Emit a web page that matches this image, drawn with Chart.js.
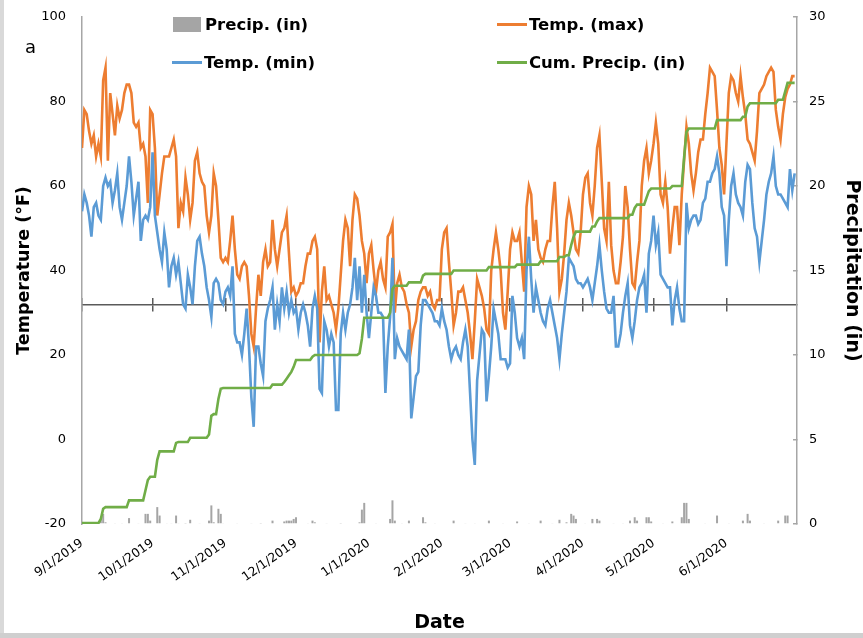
<!DOCTYPE html>
<html>
<head>
<meta charset="utf-8">
<title>Daily temperature and precipitation, Sep 2019 – Jun 2020</title>
<script src="https://cdn.jsdelivr.net/npm/chart.js@4.4.1/dist/chart.umd.min.js"></script>
<style>
  html, body { margin: 0; padding: 0; background: #fff; }
  #frame { position: relative; width: 863px; height: 638px; overflow: hidden; background: #fff; }
  #c { position: absolute; left: 0; top: 0; }
  #panel { position: absolute; left: 25px; top: 36px; font: 18px "DejaVu Sans"; color: #000; line-height: 21px; }
  #legend { position: absolute; left: 172px; top: 12px; display: grid;
            grid-template-columns: 325px 260px; row-gap: 13px; }
  .item { display: flex; align-items: center; height: 25px; white-space: nowrap;
          font: bold 16.5px "DejaVu Sans"; color: #000; }
  .sw-bar { width: 28px; height: 15px; margin: 0 4px 0 1px; }
  .sw-line { width: 30px; height: 3px; margin-right: 2px; }
  #edge-left { position: absolute; left: 0; top: 0; width: 4px; height: 638px; background: #d9d9d9; }
  #edge-bottom { position: absolute; left: 0; top: 633px; width: 863px; height: 5px; background: #cfcfcf; }
</style>
</head>
<body>
<div id="frame">
  <canvas id="c" width="863" height="638"></canvas>
  <div id="panel">a</div>
  <div id="legend"></div>
  <div id="edge-left"></div>
  <div id="edge-bottom"></div>
</div>
<script>
// Day index 0 = 9/1/2019 ... 303 = 6/30/2020
const tickDays   = [0, 30, 61, 91, 122, 153, 182, 213, 243, 274];
const tickLabels = ['9/1/2019', '10/1/2019', '11/1/2019', '12/1/2019', '1/1/2020',
                    '2/1/2020', '3/1/2020', '4/1/2020', '5/1/2020', '6/1/2020'];

// Daily maximum temperature (°F)
const tempMax = [
  69,78,77,73,70,72,67,70,67,85,
  88,66,82,77,72,79,76,78,82,84,
  84,82,75,74,75,69,70,67,56,78,
  77,69,53,58,63,67,67,67,69,71,
  67,50,56,54,62,58,52,56,66,68,
  63,61,60,53,49,53,63,60,52,43,
  42,43,42,47,53,45,39,38,41,42,
  41,34,25,22,31,39,34,42,45,41,
  42,52,45,41,45,49,50,53,44,35,
  36,34,35,37,37,41,44,44,47,48,
  45,23,35,41,33,34,32,30,26,31,
  39,47,52,50,41,52,58,57,53,47,
  44,37,44,46,40,35,40,42,38,36,
  48,49,51,30,37,39,36,35,32,30,
  22,26,28,33,35,36,36,34,35,32,
  31,33,33,45,49,50,42,35,27,30,
  35,35,36,33,30,25,19,28,38,36,
  34,31,26,25,40,45,49,45,40,30,
  26,35,45,49,47,47,49,42,35,55,
  60,58,47,52,45,43,42,45,47,47,
  55,61,50,35,38,44,52,56,53,49,
  45,44,49,58,62,63,56,53,60,69,
  72,61,50,47,61,46,40,37,37,42,
  48,60,55,45,37,36,42,47,60,66,
  69,63,66,70,75,70,58,56,61,55,
  44,50,55,55,46,58,66,74,70,63,
  59,63,68,71,71,77,82,88,87,86,
  78,69,65,58,70,82,86,85,82,80,
  86,81,77,71,70,68,66,73,82,83,
  84,86,87,88,87,78,74,71,77,81,
  83,84,86,86
];

// Daily minimum temperature (°F)
const tempMin = [
  54,58,56,53,48,55,56,53,52,60,
  62,60,61,56,59,63,55,52,56,60,
  67,61,53,57,61,47,52,53,52,55,
  68,53,49,45,42,49,45,36,41,43,
  39,42,37,32,31,39,36,32,41,47,
  48,44,41,36,33,29,37,38,37,33,
  32,35,36,34,41,25,23,23,20,25,
  31,22,10,3,22,22,18,15,28,31,
  33,36,26,32,28,36,31,35,30,33,
  30,31,26,30,32,30,27,22,31,34,
  31,12,11,28,26,22,25,23,7,7,
  25,30,26,30,32,36,43,33,41,30,
  39,30,24,30,36,34,30,30,29,11,
  22,29,43,19,24,22,21,20,19,26,
  5,10,15,16,27,33,33,32,31,30,
  28,28,27,31,28,26,22,19,21,22,
  20,19,23,26,22,11,0,-6,14,20,
  26,25,9,15,22,31,28,25,19,19,
  19,17,18,34,30,24,22,24,19,40,
  48,38,30,36,33,30,28,27,31,33,
  30,27,24,19,25,30,35,43,42,41,
  38,37,37,36,37,38,36,33,37,41,
  46,40,35,31,30,30,34,22,22,25,
  30,34,37,27,24,28,33,36,37,39,
  30,44,47,53,46,49,39,38,37,36,
  36,27,33,36,31,28,28,56,50,52,
  53,53,51,52,56,57,61,61,63,64,
  67,63,55,53,41,52,60,63,58,56,
  55,53,61,65,64,56,50,48,42,47,
  52,58,61,63,67,60,58,58,57,56,
  55,64,59,63
];

// Daily precipitation (in)
const precip = [
  0,0,0,0.05,0,0,0,0,0.25,0.6,
  0.1,0,0,0,0.05,0,0,0.05,0,0,
  0.35,0,0,0,0.05,0,0,0.6,0.6,0.2,
  0,0,1.0,0.5,0,0,0.05,0,0.05,0,
  0.5,0.05,0,0,0.03,0,0.25,0,0,0,
  0.05,0,0,0,0.2,1.1,0.1,0,0.9,0.6,
  0.05,0,0,0,0,0,0.05,0,0,0,
  0,0,0.05,0,0,0,0.03,0,0,0,
  0,0.2,0,0,0,0,0.15,0.2,0.2,0.2,
  0.3,0.4,0,0,0,0,0.05,0,0.2,0.1,
  0,0,0,0,0.05,0,0,0,0,0,
  0.03,0,0,0,0,0,0,0,0.1,0.85,
  1.25,0,0,0,0,0.05,0,0,0,0,
  0,0.3,1.4,0.2,0,0,0.05,0,0,0.2,
  0,0,0,0,0,0.4,0.1,0,0,0,
  0.05,0,0,0,0,0,0,0,0.2,0,
  0,0,0,0.05,0,0,0,0.05,0,0,
  0,0,0,0.2,0,0,0,0,0,0.05,
  0,0,0,0,0,0.15,0,0,0,0,
  0.05,0,0,0,0,0.2,0,0,0,0,
  0.05,0,0,0.25,0,0,0.1,0,0.6,0.5,
  0.3,0,0,0,0.05,0,0,0.3,0,0.3,
  0.2,0,0,0,0,0,0.05,0,0,0,
  0.05,0,0,0.2,0,0.4,0.2,0,0,0,
  0.4,0.4,0.15,0,0,0,0,0.05,0,0,
  0,0.15,0,0,0,0.4,1.25,1.25,0.3,0,
  0,0,0,0,0,0.05,0,0,0,0,
  0.5,0,0,0,0,0.05,0,0,0,0,
  0,0.2,0,0.6,0.2,0,0,0,0,0,
  0.05,0,0,0,0,0,0.2,0,0,0.5,
  0.5,0,0,0
];

// Cumulative precipitation since 9/1/2019 (in)
const cumPrecip = [
  0.05,0.05,0.05,0.05,0.05,0.05,0.05,0.05,0.3,0.9,
  1.0,1.0,1.0,1.0,1.0,1.0,1.0,1.0,1.0,1.0,
  1.4,1.4,1.4,1.4,1.4,1.4,1.4,2.0,2.6,2.8,
  2.8,2.8,3.8,4.3,4.3,4.3,4.3,4.3,4.3,4.3,
  4.8,4.85,4.85,4.85,4.85,4.85,5.1,5.1,5.1,5.1,
  5.1,5.1,5.1,5.1,5.3,6.4,6.5,6.5,7.4,8.0,
  8.05,8.05,8.05,8.05,8.05,8.05,8.05,8.05,8.05,8.05,
  8.05,8.05,8.05,8.05,8.05,8.05,8.05,8.05,8.05,8.05,
  8.05,8.25,8.25,8.25,8.25,8.25,8.4,8.6,8.8,9.0,
  9.3,9.7,9.7,9.7,9.7,9.7,9.7,9.7,9.9,10.0,
  10.0,10.0,10.0,10.0,10.0,10.0,10.0,10.0,10.0,10.0,
  10.0,10.0,10.0,10.0,10.0,10.0,10.0,10.0,10.1,10.95,
  12.2,12.2,12.2,12.2,12.2,12.2,12.2,12.2,12.2,12.2,
  12.2,12.5,13.9,14.1,14.1,14.1,14.1,14.1,14.1,14.3,
  14.3,14.3,14.3,14.3,14.3,14.7,14.8,14.8,14.8,14.8,
  14.8,14.8,14.8,14.8,14.8,14.8,14.8,14.8,15.0,15.0,
  15.0,15.0,15.0,15.0,15.0,15.0,15.0,15.0,15.0,15.0,
  15.0,15.0,15.0,15.2,15.2,15.2,15.2,15.2,15.2,15.2,
  15.2,15.2,15.2,15.2,15.2,15.35,15.35,15.35,15.35,15.35,
  15.35,15.35,15.35,15.35,15.35,15.55,15.55,15.55,15.55,15.55,
  15.55,15.55,15.55,15.8,15.8,15.8,15.9,15.9,16.5,17.0,
  17.3,17.3,17.3,17.3,17.3,17.3,17.3,17.6,17.6,17.9,
  18.1,18.1,18.1,18.1,18.1,18.1,18.1,18.1,18.1,18.1,
  18.1,18.1,18.1,18.3,18.3,18.7,18.9,18.9,18.9,18.9,
  19.3,19.7,19.85,19.85,19.85,19.85,19.85,19.85,19.85,19.85,
  19.85,20.0,20.0,20.0,20.0,20.0,21.7,23.2,23.4,23.4,
  23.4,23.4,23.4,23.4,23.4,23.4,23.4,23.4,23.4,23.4,
  23.9,23.9,23.9,23.9,23.9,23.9,23.9,23.9,23.9,23.9,
  23.9,24.1,24.1,24.7,24.9,24.9,24.9,24.9,24.9,24.9,
  24.9,24.9,24.9,24.9,24.9,24.9,25.1,25.1,25.1,25.6,
  26.1,26.1,26.1,26.1
];

const FONT = 'DejaVu Sans';
Chart.defaults.font.family = FONT;
Chart.defaults.color = '#000';

const toXY = arr => arr.map((v, i) => ({ x: i, y: v }));
const setMonthTicks = scale => { scale.ticks = tickDays.map(v => ({ value: v })); };

// Secondary x axes sitting on the 32 °F line: one draws the line and the lower
// half of each cross tick, the other (slightly higher) draws the upper half.
const freezeAxis = (yValue, showLine) => ({
  type: 'linear', axis: 'x', position: { y: yValue },
  min: 0, max: 304,
  afterBuildTicks: setMonthTicks,
  ticks: { display: false },
  grid: { display: true, drawOnChartArea: false, drawTicks: true, tickLength: 6,
          color: '#5a5a5a', lineWidth: 1.5 },
  border: { display: showLine, color: '#5a5a5a', width: 1.5 }
});

// Fixed box sizes so the plot area lands at 82..797 x 17..524
const fitVertical = w => s => { s.width = w; s.paddingTop = 8; s.paddingBottom = 8; };

const chart = new Chart(document.getElementById('c'), {
  type: 'line',
  data: {
    datasets: [
      { type: 'bar', label: 'Precip. (in)', data: toXY(precip), yAxisID: 'y1', xAxisID: 'x',
        backgroundColor: '#a5a5a5', barPercentage: 0.85, categoryPercentage: 1, order: 3 },
      { label: 'Temp. (max)', data: toXY(tempMax), yAxisID: 'y', xAxisID: 'x',
        borderColor: '#ed7d31', backgroundColor: '#ed7d31', borderWidth: 2.6,
        pointRadius: 0, tension: 0, order: 2 },
      { label: 'Temp. (min)', data: toXY(tempMin), yAxisID: 'y', xAxisID: 'x',
        borderColor: '#5b9bd5', backgroundColor: '#5b9bd5', borderWidth: 2.6,
        pointRadius: 0, tension: 0, order: 1 },
      { label: 'Cum. Precip. (in)', data: toXY(cumPrecip), yAxisID: 'y1', xAxisID: 'x',
        borderColor: '#70ad47', backgroundColor: '#70ad47', borderWidth: 2.6,
        pointRadius: 0, tension: 0, order: 0 }
    ]
  },
  options: {
    responsive: false,
    animation: false,
    layout: { padding: { top: 17, left: 14, right: 0, bottom: 0 } },
    plugins: { legend: { display: false }, tooltip: { enabled: false } },
    scales: {
      x: {
        type: 'linear', position: 'bottom', min: 0, max: 304, offset: false,
        afterBuildTicks: setMonthTicks,
        afterFit: s => { s.height = 114; },
        grid: { display: false },
        border: { display: false },
        ticks: {
          autoSkip: false, minRotation: 35, maxRotation: 35, padding: 4,
          font: { size: 12.5 }, color: '#000',
          callback: v => { const k = tickDays.indexOf(v); return k >= 0 ? tickLabels[k] : ''; }
        },
        title: { display: true, text: 'Date', font: { size: 19, weight: 'bold' },
                 color: '#000', padding: { top: 0, bottom: 4 } }
      },
      xFreeze: freezeAxis(32, true),
      xFreezeUp: freezeAxis(33.42, false),
      y: {
        type: 'linear', position: 'left', min: -20, max: 100,
        afterFit: fitVertical(68),
        ticks: { stepSize: 20, font: { size: 13 }, color: '#000', padding: 8 },
        grid: { display: false },
        border: { display: true, color: '#a6a6a6', width: 1.5 },
        title: { display: true, text: 'Temperature (°F)', font: { size: 17.5, weight: 'bold' },
                 color: '#000', padding: { top: 0, bottom: 0 } }
      },
      y1: {
        type: 'linear', position: 'right', min: 0, max: 30,
        afterFit: fitVertical(66),
        ticks: { stepSize: 5, font: { size: 13 }, color: '#000', padding: 16 },
        grid: { display: true, drawOnChartArea: false, drawTicks: true, tickLength: -4,
                color: '#a6a6a6', lineWidth: 1.5 },
        border: { display: true, color: '#a6a6a6', width: 1.5 },
        title: { display: true, text: 'Precipitation (in)', font: { size: 19, weight: 'bold' },
                 color: '#000', padding: { top: 0, bottom: 2 } }
      }
    }
  }
});

// Legend as HTML, two columns, built from the chart's datasets
const legendEl = document.getElementById('legend');
chart.data.datasets.forEach(ds => {
  const item = document.createElement('div');
  item.className = 'item';
  const sw = document.createElement('span');
  const isBar = ds.type === 'bar';
  sw.className = isBar ? 'sw-bar' : 'sw-line';
  sw.style.background = isBar ? ds.backgroundColor : ds.borderColor;
  const txt = document.createElement('span');
  txt.textContent = ds.label;
  item.appendChild(sw);
  item.appendChild(txt);
  legendEl.appendChild(item);
});
</script>
</body>
</html>
